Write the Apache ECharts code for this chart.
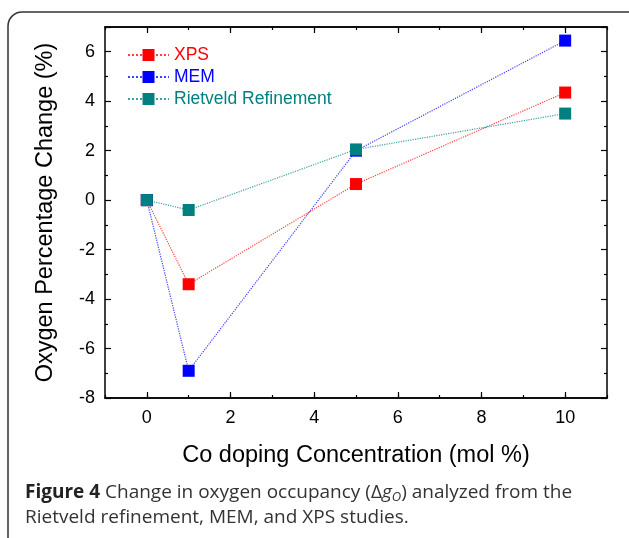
<!DOCTYPE html>
<html><head><meta charset="utf-8">
<script src="https://cdn.jsdelivr.net/npm/echarts@6/dist/echarts.min.js"></script>
<style>html,body{margin:0;padding:0;background:#fff}#c{width:629px;height:538px}</style>
</head><body><div id="c"></div>
<script>
const xValues = [0, 1, 5, 10];
const xpsValues = [0, -3.4, 0.65, 4.35];
const memValues = [0, -6.9, 2.0, 6.45];
const rietveldValues = [0, -0.4, 2.05, 3.5];
const seriesNames = ['XPS', 'MEM', 'Rietveld Refinement'];
const seriesColors = ['#ff0000', '#0000ff', '#008080'];
const xMajorTicks = [0, 2, 4, 6, 8, 10];

const font = 'Liberation Sans, Arial, sans-serif';
function pairs(vals){ return xValues.map((x,i)=>[x, vals[i]]); }
const allVals = [xpsValues, memValues, rietveldValues];

const chart = echarts.init(document.getElementById('c'));
const gridLeft = 105, gridRight = 22, gridTop = 27, gridBottom = 140;

const xAxisBase = {type:'value', min:-1, max:11, splitLine:{show:false},
  axisLine:{show:true, onZero:false, lineStyle:{color:'#000', width:1.5}}};
chart.setOption({
  animation:false,
  grid:{left:gridLeft, right:gridRight, top:gridTop, bottom:gridBottom, containLabel:false},
  legend:{orient:'vertical', left:122, top:41, itemGap:4, itemWidth:41, itemHeight:15,
    data: seriesNames.map((n,i)=>({name:n, textStyle:{color:seriesColors[i]}})),
    textStyle:{fontFamily:font, fontSize:17.5}},
  xAxis:[
    Object.assign({}, xAxisBase, {position:'bottom', interval:1,
      name:'Co doping Concentration (mol %)', nameLocation:'middle', nameGap:46,
      nameTextStyle:{fontFamily:font, fontSize:23.5, color:'#000'},
      axisTick:{show:true, inside:true, length:6, lineStyle:{color:'#000', width:1.2}, customValues:xMajorTicks},
      axisLabel:{show:true, customValues:xMajorTicks, fontFamily:font, fontSize:18, color:'#000', margin:11}}),
    Object.assign({}, xAxisBase, {position:'bottom', interval:1, gridIndex:0,
      axisTick:{show:true, inside:true, length:3, lineStyle:{color:'#000', width:1.2}},
      axisLabel:{show:false}}),
    Object.assign({}, xAxisBase, {position:'top', interval:1,
      axisTick:{show:true, inside:true, length:6, lineStyle:{color:'#000', width:1.2}, customValues:xMajorTicks},
      axisLabel:{show:false}}),
    Object.assign({}, xAxisBase, {position:'top', interval:1,
      axisTick:{show:true, inside:true, length:3, lineStyle:{color:'#000', width:1.2}},
      axisLabel:{show:false}})
  ],
  yAxis:[
    {type:'value', min:-8, max:7, interval:2, position:'left',
      name:'Oxygen Percentage Change (%)', nameLocation:'middle', nameGap:47,
      nameTextStyle:{fontFamily:font, fontSize:23.5, color:'#000'},
      splitLine:{show:false},
      axisLine:{show:true, onZero:false, lineStyle:{color:'#000', width:1.5}},
      axisTick:{show:true, inside:true, length:6, lineStyle:{color:'#000', width:1.2}},
      minorTick:{show:true, splitNumber:2, length:3, lineStyle:{color:'#000', width:1.2}},
      axisLabel:{fontFamily:font, fontSize:18, color:'#000', margin:10, showMaxLabel:false,
        formatter:v => (v % 2 === 0 ? String(v) : '')}},
    {type:'value', min:-8, max:7, interval:2, position:'right',
      splitLine:{show:false},
      axisLine:{show:true, onZero:false, lineStyle:{color:'#000', width:1.5}},
      axisTick:{show:true, inside:true, length:6, lineStyle:{color:'#000', width:1.2}},
      minorTick:{show:true, splitNumber:2, length:3, lineStyle:{color:'#000', width:1.2}},
      axisLabel:{show:false}}
  ],
  series: seriesNames.map((n,i)=>({
    name:n, type:'line', xAxisIndex:0, yAxisIndex:0, data:pairs(allVals[i]),
    symbol:'rect', symbolSize:12,
    itemStyle:{color:seriesColors[i]},
    lineStyle:{color:seriesColors[i], width:1.2, type:'dotted', opacity:0.75}
  })),
  graphic:[
    {type:'rect', shape:{x:8, y:12, width:640, height:540, r:14}, style:{fill:'none', stroke:'#333', lineWidth:1.5}, silent:true},
    {type:'text', left:25, top:480, style:{
      text:'{b|Figure 4} Change in oxygen occupancy ({n|Δ}{i|g}{s|O}) analyzed from the\nRietveld refinement, MEM, and XPS studies.',
      font:'19px "Open Sans", sans-serif', fill:'#333', lineHeight:25,
      rich:{
        b:{fontFamily:'Open Sans', fontSize:19, fontWeight:'bold', fill:'#222'},
        n:{fontFamily:'Open Sans', fontSize:19, fill:'#333'},
        i:{fontFamily:'Open Sans', fontSize:19, fontStyle:'italic', fill:'#333'},
        s:{fontFamily:'Open Sans', fontSize:13, fontStyle:'italic', fill:'#333', padding:[9,0,0,0]}
      }}}
  ]
});
</script></body></html>
